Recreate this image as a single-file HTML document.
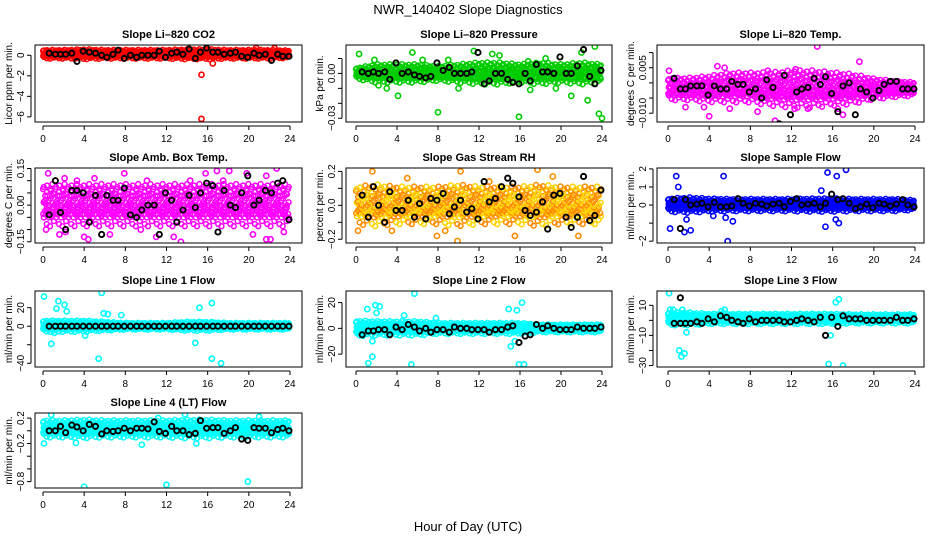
<!DOCTYPE html>
<html><head><meta charset="utf-8">
<style>
body{margin:0;background:#fff;}
svg{display:block;font-family:"Liberation Sans",sans-serif;}
</style></head>
<body>
<svg id="chart" width="936" height="540" viewBox="0 0 936 540">
<text x="468" y="14" text-anchor="middle" font-size="13">NWR_140402  Slope Diagnostics</text>
<text x="468" y="531" text-anchor="middle" font-size="13">Hour of Day (UTC)</text>
<g id="panels"></g>
</svg>
<script>
// shared hour positions of black (hourly-mean) points
const blackHours = [0.6,1.2,1.7,2.2,2.8,3.3,3.9,4.5,5.1,5.7,6.2,6.8,7.3,7.9,8.5,9.1,9.6,10.2,10.8,11.3,11.9,12.5,13.0,13.6,14.2,14.8,15.3,15.9,16.5,17.0,17.6,18.2,18.7,19.3,19.9,20.5,21.0,21.6,22.2,22.8,23.3,23.9];
const bandHours = [0,2,4,6,8,10,12,14,16,18,20,22,24];
const xTicks = [0,4,8,12,16,20,24];

// Panel 1: CO2
const co2Black = [0.2,0.1,0.1,0.1,0.2,-0.6,0.4,0.3,0.2,0.0,-0.2,0.1,0.5,-0.3,0.0,-0.2,0.0,0.0,0.0,0.4,-0.2,0.2,0.3,0.1,0.6,-0.3,0.3,0.7,0.3,0.3,0.1,0.2,0.3,-0.1,-0.2,0.2,0.0,0.1,-0.5,0.1,-0.1,-0.1];
const co2Center = [0.1,0.1,0.1,0.1,0.1,0.1,0.1,0.1,0.1,0.1,0.1,0.1,0.1];
const co2Band = [0.35,0.35,0.4,0.35,0.35,0.35,0.35,0.4,0.4,0.35,0.35,0.35,0.3];
const co2OutX = [15.4,15.4,16.5,22.5,20.7];
const co2OutY = [-1.9,-6.2,-0.8,0.7,0.7];

// Panel 2: Pressure
const presBlack = [0.001,0.0,0.001,0.0,0.001,-0.004,0.007,0.0,0.001,-0.001,-0.002,-0.003,-0.002,0.007,0.002,0.004,0.0,0.0,0.0,0.001,0.014,-0.007,-0.005,0.0,0.0,-0.004,-0.006,-0.007,0.0,-0.005,0.006,0.001,0.001,0.0,0.011,0.0,0.0,0.005,0.016,-0.002,-0.007,0.002];
const presCenter = [0,0,0,0,0,0,0,0,0,0,0,0,0];
const presBand = [0.003,0.005,0.005,0.005,0.004,0.005,0.006,0.006,0.005,0.006,0.005,0.006,0.005];
const presOutX = [0.3,5.5,4.1,8.0,15.9,23.3,24.0,22.6,21.0,11.5,14.0,18.5,3.0,10.0,17.0,19.5,23.7,22.0,1.8,13.3,6.5,2.2,9.0,16.8];
const presOutY = [0.013,0.014,-0.015,-0.026,-0.029,0.018,-0.030,-0.018,-0.015,0.015,0.012,0.010,-0.010,-0.010,-0.011,-0.010,-0.027,0.014,0.009,0.013,0.009,-0.008,0.009,0.008];

// Panel 3: Li-820 Temp
const tempBlack = [0.0015,-0.002,-0.002,-0.001,-0.001,-0.001,-0.004,-0.001,-0.002,-0.002,0.0005,-0.0005,-0.0005,-0.003,-0.002,-0.005,0.001,-0.0015,-0.0135,0.0025,-0.0105,-0.003,-0.002,-0.0015,0.0015,-0.0005,0.002,-0.0035,-0.0095,-0.001,0.0,-0.0105,-0.002,-0.003,-0.005,-0.0025,-0.0005,0.0005,0.0005,-0.002,-0.002,-0.002];
const tempCenter = [-0.002,-0.002,-0.002,-0.0015,-0.0015,-0.002,-0.002,-0.002,-0.002,-0.002,-0.002,-0.002,-0.002];
const tempBand = [0.003,0.003,0.0035,0.004,0.004,0.0045,0.005,0.005,0.0045,0.004,0.0028,0.0022,0.0018];
const tempOutX = [0.1,4.8,9.7,14.5,18.6,10.4,17.0,3.5,6.0,8.7,16.5,12.3,13.6,4.0,1.7,12.4,5.5];
const tempOutY = [0.004,0.0055,0.004,0.012,0.007,-0.0125,-0.0105,-0.008,-0.0085,-0.0095,-0.0085,-0.0085,-0.0085,-0.011,-0.008,0.0045,0.005];

// Panel 4: Ambient box temp
const ambBlack = [-0.04,0.1,-0.03,-0.1,0.06,0.06,0.05,-0.07,0.04,-0.12,0.04,0.02,0.02,0.07,-0.04,-0.05,-0.02,0.0,0.0,-0.12,0.05,0.02,-0.07,-0.02,0.04,-0.01,0.05,0.09,0.08,-0.11,0.06,0.0,-0.01,0.05,0.12,0.0,0.02,0.06,0.05,0.09,0.1,-0.06];
const ambCenter = [0,0,0,0,0,0,0,0,0,0,0,0,0];
const ambBand = [0.07,0.07,0.07,0.07,0.07,0.07,0.07,0.07,0.07,0.07,0.07,0.07,0.07];
const ambOutX = [0.5,2.2,1.6,4.0,4.4,6.5,7.9,10.1,11.0,13.4,15.8,16.9,18.1,19.8,21.7,22.7,23.4,2.1,0.3,12.7,14.3,20.4,21.7,22.1,3.3,9.5,17.5,5.0];
const ambOutY = [0.13,-0.11,-0.12,-0.13,-0.14,-0.12,0.13,0.1,-0.13,-0.15,0.13,0.14,0.14,0.13,0.12,0.15,-0.11,0.11,-0.1,-0.13,0.1,-0.12,-0.14,-0.14,0.1,-0.1,0.1,0.11];

// Panel 5: Gas stream RH
const rhBlack = [0.06,-0.07,0.11,0.0,-0.1,0.08,-0.03,-0.03,0.03,-0.07,0.01,-0.08,0.04,0.03,0.07,-0.05,-0.01,0.03,-0.04,-0.02,-0.08,0.14,0.02,0.04,0.11,0.16,0.13,0.05,-0.03,-0.06,-0.04,0.02,-0.14,0.06,0.07,-0.07,-0.13,-0.07,0.17,-0.09,-0.06,0.09];
const rhCenter = [0,0,0,0,0,0,0,0,0,0,0,0,0];
const rhBand = [0.09,0.1,0.09,0.09,0.09,0.1,0.09,0.09,0.09,0.1,0.09,0.09,0.09];
const rhOutX = [0.2,1.6,7.9,9.9,10.2,15.5,17.7,21.7,8.7,5.0,19.2,3.5,13.0];
const rhOutY = [-0.15,0.2,-0.18,-0.21,0.2,-0.18,0.21,-0.18,-0.15,0.16,0.17,-0.15,0.14];

// Panel 6: Sample flow
const sfBlack = [0.3,-1.3,0.3,0.0,0.05,0.1,-0.1,0.15,-0.1,-0.1,-0.05,0.35,0.1,-0.05,0.1,0.05,-0.05,0.05,0.1,-0.1,0.2,0.35,0.0,0.05,0.1,-0.1,0.1,0.6,0.3,0.35,0.1,-0.2,-0.1,0.05,-0.15,0.1,0.05,-0.05,0.05,0.3,0.0,-0.1];
const sfCenter = [0,0,0,0,0,0,0,0,0,0,0,0,0];
const sfBand = [0.3,0.35,0.3,0.28,0.28,0.28,0.28,0.3,0.3,0.28,0.28,0.28,0.22];
const sfOutX = [0.8,1.0,0.2,1.6,2.2,5.4,5.8,6.3,5.6,15.5,16.4,17.3,15.3,16.6,14.9,1.8,4.4,16.3];
const sfOutY = [1.6,1.0,-1.3,-1.5,-1.4,1.6,-2.0,-0.9,-0.7,1.8,1.6,1.95,-1.2,-1.0,0.8,-0.8,-0.6,-0.8];

// Panel 7: Line 1 flow
const l1Black = [0,0,0,0,0,0,0,0,0,0,0,0,0,0,0,0,0,0,0,0,0,0,0,0,0,0,0,0,0,0,0,0,0,0,0,0,0,0,0,0,0,0];
const l1Center = [0,0,0,0,0,0,0,0,0,0,0,0,0];
const l1Band = [5,5,5,4,3,3,3,4,4,3,3,3,3];
const l1OutX = [0.1,0.8,1.3,1.5,2.1,2.3,5.4,5.7,5.9,6.3,7.6,14.8,15.2,16.4,16.4,17.3,1.1,4.1];
const l1OutY = [32,-19,19,27,23,16,-35,36,14,13,12,-18,20,25,-35,-40,-7,-10];

// Panel 8: Line 2 flow
const l2Black = [-5,-2,-2,-1,-1,-5,1,-1,3,1,-2,0,-3,-1,-1,-3,1,0,0,-1,-1,-1,-3,-1,-1,1,2,-11,-6,-5,3,0,2,0,-1,-1,-1,1,0,0,0,1];
const l2Center = [0,0,0,0,0,0,0,0,0,0,0,0,0];
const l2Band = [5,4.5,4.5,4.5,3.5,3.5,3.5,3.5,3.5,2.5,2.5,2.5,2.5];
const l2OutX = [1.2,1.6,1.9,2.3,1.1,2.0,5.4,5.7,7.8,15.1,15.5,15.7,16.2,16.4,15.9,14.9,1.6,4.7];
const l2OutY = [-27,-22,18,17,15,12,-28,27,8,-14,-10,14,20,-28,-28,15,-10,10];

// Panel 9: Line 3 flow
const l3Black = [-2,-2,-2,-2,-1,-2,1,-1,3,2,0,-1,-2,1,-1,0,0,0,0,-1,-1,0,1,0,-1,2,-10,2,-4,3,1,1,1,0,0,0,0,0,2,0,0,1];
const l3Center = [1,1,1,1,1,1,1,1,1,1,1,1,1];
const l3Band = [3.5,3.5,2.8,2.8,2.8,2.8,2.8,2.8,2.8,2.5,2.5,2.5,2.5];
const l3OutX = [0.1,0.2,1.1,1.3,1.6,1.8,5.2,5.5,15.6,16.3,15.8,16.6,17.0,0.5,1.4];
const l3OutY = [18,7,-20,-24,-22,-8,6,7,-29,12,-10,14,-30,7,7];
const l3BlackExtraX = [1.2];
const l3BlackExtraY = [15];

// Panel 10: Line 4 (LT) flow
const l4Black = [0.0,0.0,0.07,-0.03,0.09,0.06,0.0,0.1,0.07,-0.05,0.0,-0.01,0.0,0.04,0.0,0.04,0.04,0.03,0.14,-0.01,-0.04,0.07,0.0,0.0,-0.06,-0.04,0.16,0.04,0.05,0.05,-0.04,0.0,0.05,-0.13,-0.15,0.05,0.04,0.04,-0.03,0.02,0.04,0.0];
const l4Center = [0.03,0.03,0.03,0.03,0.03,0.03,0.03,0.03,0.03,0.03,0.03,0.03,0.03];
const l4Band = [0.11,0.11,0.12,0.11,0.11,0.11,0.11,0.12,0.12,0.11,0.11,0.11,0.11];
const l4OutX = [0.1,0.8,4.0,12.0,19.9,13.8,21.0,3.2,9.6,11.2,14.9];
const l4OutY = [-0.2,0.25,-0.88,-0.85,-0.8,0.26,0.22,-0.19,-0.22,0.2,-0.2];

const panels = [
 {name:'co2',title:'Slope Li\u2013820 CO2',ylab:'Licor ppm per min.',col:0,row:0,color:'#ff0000',ymin:-6.5,ymax:1.0,ticks:[0,-2,-4,-6],labels:['0','\u22122','\u22124','\u22126'],black:co2Black,center:co2Center,band:co2Band,ox:co2OutX,oy:co2OutY},
 {name:'pressure',title:'Slope Li\u2013820 Pressure',ylab:'kPa per min.',col:1,row:0,color:'#00cc00',ymin:-0.0325,ymax:0.019,ticks:[0.01,0,-0.01,-0.02,-0.03],labels:['','0.00','','','\u22120.03'],black:presBlack,center:presCenter,band:presBand,ox:presOutX,oy:presOutY},
 {name:'temp',title:'Slope Li\u2013820 Temp.',ylab:'degrees C per min.',col:2,row:0,color:'#ff00ff',ymin:-0.0129,ymax:0.0125,ticks:[0.01,0.005,0,-0.005,-0.01],labels:['','0.005','','','\u22120.010'],black:tempBlack,center:tempCenter,band:tempBand,ox:tempOutX,oy:tempOutY},
 {name:'amb-temp',title:'Slope Amb. Box Temp.',ylab:'degrees C per min.',col:0,row:1,color:'#ff00ff',ymin:-0.155,ymax:0.152,ticks:[0.15,0.1,0.05,0,-0.05,-0.1,-0.15],labels:['0.15','','','0.00','','','\u22120.15'],black:ambBlack,center:ambCenter,band:ambBand,ox:ambOutX,oy:ambOutY},
 {name:'rh',title:'Slope Gas Stream RH',ylab:'percent per min.',col:1,row:1,color:'#ff8c00',ymin:-0.222,ymax:0.22,ticks:[0.2,0.1,0,-0.1,-0.2],labels:['0.2','','0.0','','\u22120.2'],black:rhBlack,center:rhCenter,band:rhBand,ox:rhOutX,oy:rhOutY},
 {name:'sample-flow',title:'Slope Sample Flow',ylab:'ml/min per min.',col:2,row:1,color:'#0000ff',ymin:-2.1,ymax:2.05,ticks:[2,1,0,-1,-2],labels:['2','1','0','','\u22122'],black:sfBlack,center:sfCenter,band:sfBand,ox:sfOutX,oy:sfOutY},
 {name:'line1-flow',title:'Slope Line 1 Flow',ylab:'ml/min per min.',col:0,row:2,color:'#00ffff',ymin:-44,ymax:38,ticks:[20,0,-20,-40],labels:['20','0','','\u221240'],black:l1Black,center:l1Center,band:l1Band,ox:l1OutX,oy:l1OutY},
 {name:'line2-flow',title:'Slope Line 2 Flow',ylab:'ml/min per min.',col:1,row:2,color:'#00ffff',ymin:-30,ymax:29,ticks:[20,0,-20],labels:['20','0','\u221220'],black:l2Black,center:l2Center,band:l2Band,ox:l2OutX,oy:l2OutY},
 {name:'line3-flow',title:'Slope Line 3 Flow',ylab:'ml/min per min.',col:2,row:2,color:'#00ffff',ymin:-31,ymax:19.5,ticks:[10,0,-10,-20,-30],labels:['10','','\u221210','','\u221230'],black:l3Black,center:l3Center,band:l3Band,ox:l3OutX,oy:l3OutY,bx:l3BlackExtraX,by:l3BlackExtraY},
 {name:'line4-flow',title:'Slope Line 4 (LT) Flow',ylab:'ml/min per min.',col:0,row:3,color:'#00ffff',ymin:-0.9,ymax:0.28,ticks:[0.2,0,-0.2,-0.4,-0.6,-0.8],labels:['0.2','','\u22120.2','','','\u22120.8'],black:l4Black,center:l4Center,band:l4Band,ox:l4OutX,oy:l4OutY}
];

const colBox = [{l:35,r:302,x0:43,x1:290},{l:346,r:612,x0:356,x1:602},{l:657,r:924,x0:668,x1:915}];
const rowBox = [{t:45,b:122},{t:168,b:243},{t:291,b:367},{t:413,b:488}];
const NS='http://www.w3.org/2000/svg';
function mk(tag,attrs,parent){const e=document.createElementNS(NS,tag);for(const k in attrs)e.setAttribute(k,attrs[k]);parent.appendChild(e);return e;}
function interp(h,arr){const i=Math.min(11,Math.floor(h/2));const f=(h-bandHours[i])/2;return arr[i]*(1-f)+arr[i+1]*f;}
const root=document.getElementById('panels');
// fixed lattice pattern for drawing the dense cloud (layout, not data)
const fr=[-1,-0.55,-0.15,0.3,0.75,1.1];
const jit=[0.0,0.35,-0.3,0.15,-0.45,0.25,-0.1];
panels.forEach(p=>{
 const cb=colBox[p.col], rb=rowBox[p.row];
 const xs=h=>cb.x0+(cb.x1-cb.x0)*h/24;
 const ys=v=>rb.b-(v-p.ymin)/(p.ymax-p.ymin)*(rb.b-rb.t);
 const g=mk('g',{},root);
 
 
 const clip=mk('clipPath',{id:'c-'+p.name},g);
 mk('rect',{x:cb.l,y:rb.t,width:cb.r-cb.l,height:rb.b-rb.t},clip);
 const pts=mk('g',{'clip-path':'url(#c-'+p.name+')'},g);
 
 
 let n=0;
 for(let h=0.05;h<=24;h+=0.17){
  const c=interp(h,p.center), w=interp(h,p.band);
  for(let k=0;k<fr.length;k++){
   if((n*3+k)%7===0) continue;
   const v=c+(fr[k]+jit[(n+2*k)%7])*w*0.85;
   const col=(p.name==='rh'&&(n+k)%2)?'#ffd400':p.color;
   const e=mk('circle',{cx:xs(h+jit[(n+k)%7]*0.1),cy:ys(v),r:2.4,fill:'none',stroke:col,'stroke-width':1.5},pts);
   
   
  }
  n++;
 }
 for(let i=0;i<p.ox.length;i++){
  const e=mk('circle',{cx:xs(p.ox[i]),cy:ys(p.oy[i]),r:2.6,fill:'none',stroke:p.color,'stroke-width':1.6},pts);
  
  
 }
 const bx=blackHours.slice(0,p.black.length).concat(p.bx||[]);
 const by=p.black.concat(p.by||[]);
 for(let i=0;i<by.length;i++){
  const e=mk('circle',{cx:xs(bx[i]),cy:ys(by[i]),r:2.6,fill:'none',stroke:'#000','stroke-width':1.9},pts);
  
  
 }
 const box=mk('rect',{x:cb.l,y:rb.t,width:cb.r-cb.l,height:rb.b-rb.t,fill:'none',stroke:'#000','stroke-width':1},g);
 
 
 const t=mk('text',{x:(cb.l+cb.r)/2,y:rb.t-7,'text-anchor':'middle','font-size':11,'font-weight':'bold'},g);
 t.textContent=p.title;
 
 
 const ay=rb.b+4;
 const xa=mk('g',{},g);
 
 
 mk('line',{x1:xs(0),x2:xs(24),y1:ay,y2:ay,stroke:'#000'},xa);
 xTicks.forEach(v=>{
  mk('line',{x1:xs(v),x2:xs(v),y1:ay,y2:ay+4,stroke:'#000'},xa);
  const tl=mk('text',{x:xs(v),y:ay+16,'text-anchor':'middle','font-size':10},xa);
  tl.textContent=v;
  
  
 });
 const ax=cb.l-4;
 const ya=mk('g',{},g);
 
 
 mk('line',{x1:ax,x2:ax,y1:ys(p.ticks[0]),y2:ys(p.ticks[p.ticks.length-1]),stroke:'#000'},ya);
 p.ticks.forEach((v,i)=>{
  const y=ys(v);
  mk('line',{x1:ax,x2:ax-4,y1:y,y2:y,stroke:'#000'},ya);
  if(p.labels[i]){
   const tl=mk('text',{x:ax-7,y:y,'text-anchor':'middle','font-size':10,transform:'rotate(-90 '+(ax-7)+' '+y+')'},ya);
   tl.textContent=p.labels[i];
   
   
  }
 });
 const lx=cb.l-23, ly=(rb.t+rb.b)/2;
 const yl=mk('text',{x:lx,y:ly,'text-anchor':'middle','font-size':10,transform:'rotate(-90 '+lx+' '+ly+')'},g);
 yl.textContent=p.ylab;
 
 
});
</script>
</body></html>
